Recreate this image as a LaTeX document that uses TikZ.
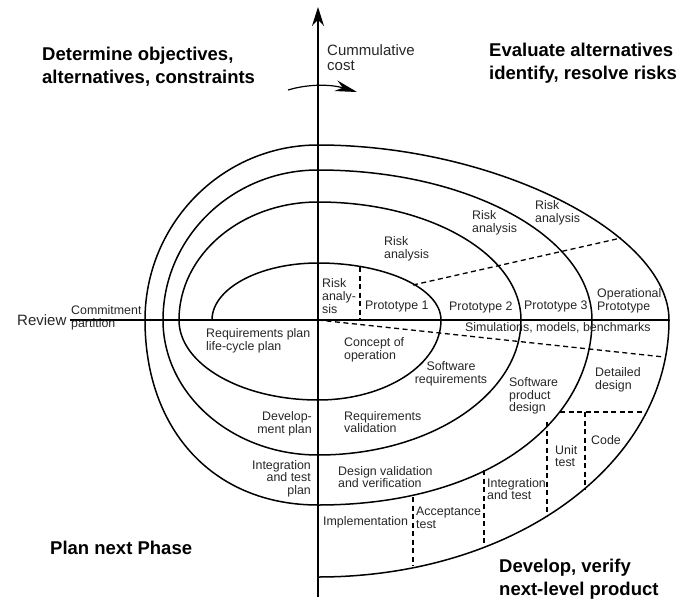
\documentclass[tikz,border=0pt]{standalone}
\usepackage{fontspec}
\setmainfont{Liberation Sans}
\usetikzlibrary{arrows.meta}

\begin{document}
\begin{tikzpicture}[x=1pt,y=-1pt,
lbl/.style={font=\fontsize{12.4}{12.6}\selectfont,inner sep=0pt,text=black!85,align=left,anchor=west},
lblr/.style={lbl,align=right,anchor=east},
ttl/.style={font=\fontsize{18.5}{23}\selectfont\bfseries,inner sep=0pt,align=left,anchor=west},
big/.style={font=\fontsize{15}{15}\selectfont,inner sep=0pt,text=black!85,align=left,anchor=west},
spiral/.style={line width=1.5pt},
axis/.style={line width=1.2pt},
sep/.style={line width=1.3pt,dash pattern=on 5pt off 3.5pt}]
\useasboundingbox (0,0) rectangle (685,600);
\coordinate (o) at (318,320);
\coordinate (top) at (318,7);
\coordinate (bot) at (318,597);
\coordinate (left) at (70,320);
\coordinate (right) at (669,320);
\draw[axis,-{Stealth[length=19pt,width=12pt]}] (bot) -- (top);
\draw[axis] (left) -- (right);
\draw[axis,-{Stealth[length=22pt,width=11pt]}] (288,90) .. controls (308,84) and (330,84) .. (357,92);
\draw[spiral] (212,320) .. controls (212,288.5) and (259.5,263) .. (318,263)
  .. controls (385.9,263) and (441,288.5) .. (441,320)
  .. controls (441,364.2) and (385.9,400) .. (318,400)
  .. controls (241.3,400) and (179,364.2) .. (179,320)
  .. controls (179,254.9) and (241.3,202) .. (318,202)
  .. controls (430.1,202) and (521,254.9) .. (521,320)
  .. controls (521,394.5) and (430.1,455) .. (318,455)
  .. controls (232.4,455) and (163,394.5) .. (163,320)
  .. controls (163,237.2) and (232.4,170) .. (318,170)
  .. controls (469.2,170) and (592,237.2) .. (592,320)
  .. controls (592,421.8) and (487.9,505) .. (318,505)
  .. controls (214.2,505) and (145,431) .. (145,320)
  .. controls (145,223.4) and (222.5,145) .. (318,145)
  .. controls (493.5,145) and (669,232.5) .. (669,320)
  .. controls (669,464) and (514.6,577) .. (318,577);
\draw[sep] (360,267) -- (360,320);
\draw[sep] (413,285) -- (621,238);
\draw[sep] (o) -- (664,357);
\draw[sep] (560,412) -- (644,412);
\draw[sep] (585,412) -- (585,489);
\draw[sep] (547,422) -- (547,516);
\draw[sep] (484,470) -- (484,547);
\draw[sep] (413,497) -- (413,566);
\node[ttl] (objectives) at (42,66.5) {Determine objectives,\\alternatives, constraints};
\node[ttl] (evaluate) at (489,63.5) {Evaluate alternatives\\identify, resolve risks};
\node[ttl] (plannext) at (50,548) {Plan next Phase};
\node[ttl] (develop) at (499,579) {Develop, verify\\next-level product};
\node[big] (cost) at (327,57.5) {Cummulative\\cost};
\node[big] (review) at (17,320) {Review};
\node[lbl] (commit) at (71,318) {Commitment\\partition};
\node[lbl] (riskA) at (322,296) {Risk\\analy-\\sis};
\node[lbl] (riskB) at (384,249) {Risk\\analysis};
\node[lbl] (riskC) at (472,223) {Risk\\analysis};
\node[lbl] (riskD) at (535,213) {Risk\\analysis};
\node[lbl] (protoA) at (365,307) {Prototype 1};
\node[lbl] (protoB) at (449,307) {Prototype 2};
\node[lbl] (protoC) at (524,306) {Prototype 3};
\node[lbl] (protoD) at (597,301) {Operational\\Prototype};
\node[lbl] (sims) at (465,328) {Simulations, models, benchmarks};
\node[lbl] (reqplan) at (206,341) {Requirements plan\\life-cycle plan};
\node[lbl] (concept) at (344,350) {Concept of\\operation};
\node[lbl,align=center,anchor=center] (swreq) at (451,374) {Software\\requirements};
\node[lbl] (swdesign) at (509,396) {Software\\product\\design};
\node[lbl] (detail) at (595,380) {Detailed\\design};
\node[lbl] (reqval) at (344,422) {Requirements\\validation};
\node[lblr] (devplan) at (312,423.5) {Develop-\\ment plan};
\node[lblr] (itplan) at (311,478.5) {Integration\\and test\\plan};
\node[lbl] (desval) at (338,477) {Design validation\\and verification};
\node[lbl] (impl) at (323,522) {Implementation};
\node[lbl] (accept) at (416,518) {Acceptance\\test};
\node[lbl] (integ) at (487,489) {Integration\\and test};
\node[lbl] (unit) at (555,456) {Unit\\test};
\node[lbl] (code) at (591,440) {Code};
\end{tikzpicture}
\end{document}
